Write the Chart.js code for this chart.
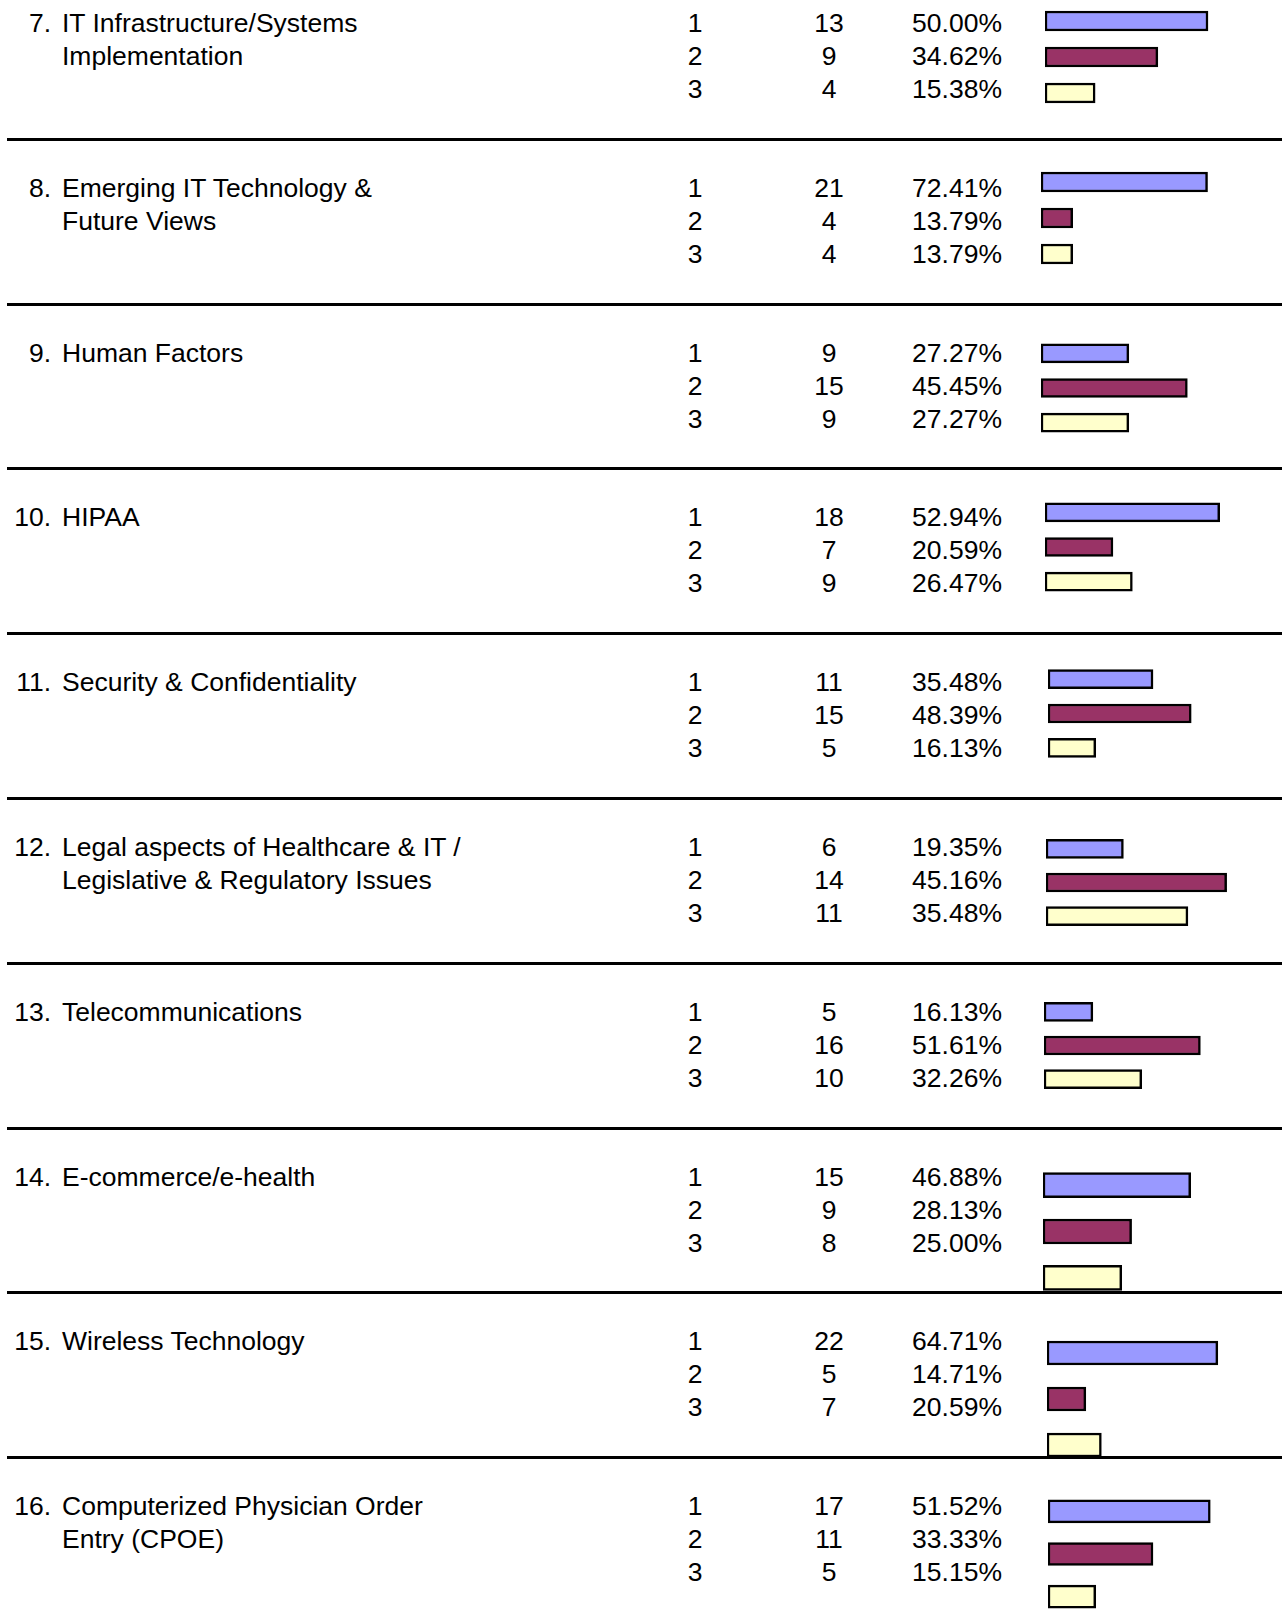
<!DOCTYPE html>
<html>
<head>
<meta charset="utf-8">
<script src="https://cdn.jsdelivr.net/npm/chart.js@4.4.1/dist/chart.umd.min.js"></script>
<style>
  html, body { margin: 0; padding: 0; background: #fff; }
  body { width: 1282px; height: 1618px; position: relative; overflow: hidden;
         font-family: "Liberation Sans", Arial, sans-serif; font-size: 26.5px; color: #000; }
  .t { position: absolute; line-height: 33px; white-space: nowrap; }
  .sep { position: absolute; left: 7px; width: 1275px; height: 3px; background: #000; z-index: 5; }
  canvas { position: absolute; }
</style>
</head>
<body>
<script>
// Dados de cada tópico (ranking 1, 2, 3)

var topicNumbers = ["7.", "8.", "9.", "10.", "11.", "12.", "13.", "14.", "15.", "16."];
var topicTitles = [
    ["IT Infrastructure/Systems", "Implementation"],
    ["Emerging IT Technology &", "Future Views"],
    ["Human Factors"],
    ["HIPAA"],
    ["Security & Confidentiality"],
    ["Legal aspects of Healthcare & IT /", "Legislative & Regulatory Issues"],
    ["Telecommunications"],
    ["E-commerce/e-health"],
    ["Wireless Technology"],
    ["Computerized Physician Order", "Entry (CPOE)"]
];
var ranks = ["1", "2", "3"];
var counts = [
    [13, 9, 4], [21, 4, 4], [9, 15, 9], [18, 7, 9], [11, 15, 5],
    [6, 14, 11], [5, 16, 10], [15, 9, 8], [22, 5, 7], [17, 11, 5]
];
var percents = [
    [50.00, 34.62, 15.38], [72.41, 13.79, 13.79], [27.27, 45.45, 27.27],
    [52.94, 20.59, 26.47], [35.48, 48.39, 16.13], [19.35, 45.16, 35.48],
    [16.13, 51.61, 32.26], [46.88, 28.13, 25.00], [64.71, 14.71, 20.59],
    [51.52, 33.33, 15.15]
];

// Layout de cada mini grafico (cada um tem sua propria escala)

var sepLines = [139, 304, 468, 633, 798, 963, 1128, 1292, 1457];
var barLeft = [1045, 1041, 1041, 1045, 1048, 1046, 1044, 1043, 1047, 1048];
var pxPerPct = [3.26, 2.30, 3.22, 3.30, 2.96, 4.00, 3.03, 3.15, 2.64, 3.15];
var barFirstY = [21, 182, 353.5, 512.5, 679, 848.5, 1011.5, 1185.5, 1353, 1511.5];
var barPitch = [36, 36, 34.5, 34.5, 34.3, 33.5, 33.5, 46.3, 46, 42.5];
var barHeight = [20, 20, 19, 19, 19, 19, 19, 25, 24, 23];
var barColors = ["#9999FF", "#993366", "#FFFFCC"];
var chartWidth = 240;

function addText(txt, left, top, width, align) {
    var d = document.createElement("div");
    d.className = "t";
    d.textContent = txt;
    d.style.left = left + "px";
    d.style.top = top + "px";
    if (width) { d.style.width = width + "px"; d.style.textAlign = align; }
    document.body.appendChild(d);
}

sepLines.forEach(function (y) {
    var s = document.createElement("div");
    s.className = "sep";
    s.style.top = (y - 1.5) + "px";
    document.body.appendChild(s);
});

for (var i = 0; i < topicNumbers.length; i++) {
    var rowStart = i === 0 ? -26 : sepLines[i - 1];
    var textTop = rowStart + 49 - 16.5;

    addText(topicNumbers[i], 0, textTop, 51, "right");
    for (var k = 0; k < topicTitles[i].length; k++) {
        addText(topicTitles[i][k], 62, textTop + k * 33);
    }
    for (var j = 0; j < 3; j++) {
        addText(ranks[j], 655, textTop + j * 33, 80, "center");
        addText(String(counts[i][j]), 789, textTop + j * 33, 80, "center");
        addText(percents[i][j].toFixed(2) + "%", 860, textTop + j * 33, 142, "right");
    }

    var cv = document.createElement("canvas");
    var h = Math.round(barPitch[i] * 3);
    cv.width = chartWidth;
    cv.height = h;
    cv.style.left = barLeft[i] + "px";
    cv.style.top = (barFirstY[i] - barPitch[i] / 2) + "px";
    document.body.appendChild(cv);

    new Chart(cv.getContext("2d"), {
        type: 'bar',
        data: {
            labels: ranks,
            datasets: [{
                data: percents[i],
                backgroundColor: barColors,
                borderColor: "#000",
                borderWidth: 2.5,
                borderSkipped: false,
                barThickness: barHeight[i]
            }]
        },
        options: {
            indexAxis: 'y',
            responsive: false,
            animation: false,
            layout: { padding: 0 },
            plugins: { legend: { display: false }, tooltip: { enabled: false } },
            scales: {
                x: { display: false, min: 0, max: chartWidth / pxPerPct[i] },
                y: { display: false, offset: true }
            }
        }
    });
}
</script>
</body>
</html>
